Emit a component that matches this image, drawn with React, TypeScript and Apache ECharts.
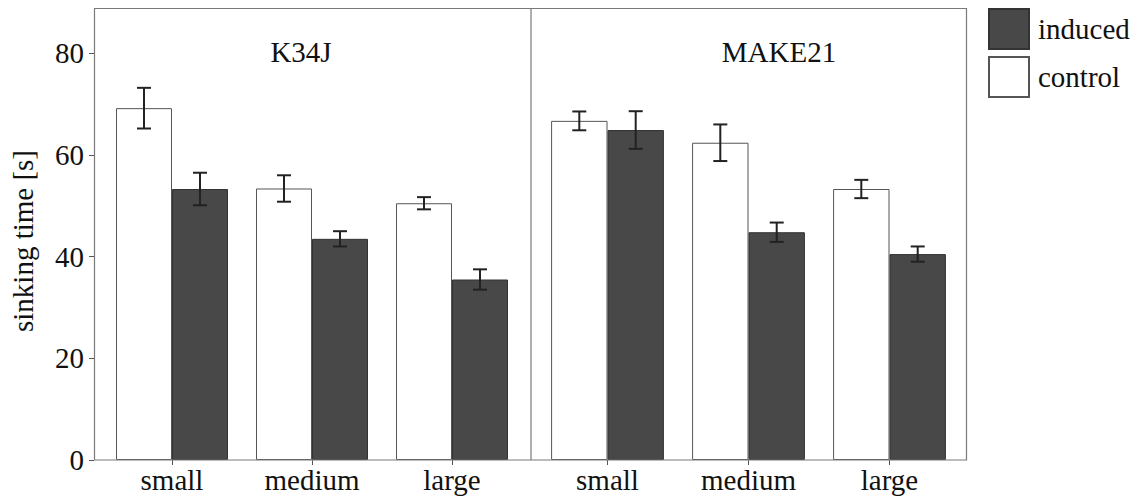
import React, { useEffect, useRef } from "react";
import * as echarts from "echarts";

const sizes = ["small", "medium", "large"];
const panels = ["K34J", "MAKE21"];
const seriesNames = ["induced", "control"];
const yTicks = [0, 20, 40, 60, 80];
const yAxisTitle = "sinking time [s]";

const k34jControl = [69.2, 53.4, 50.5];
const k34jControlErr = [4.0, 2.6, 1.2];
const k34jInduced = [53.3, 43.5, 35.5];
const k34jInducedErr = [3.2, 1.5, 2.0];
const make21Control = [66.7, 62.4, 53.3];
const make21ControlErr = [1.85, 3.6, 1.8];
const make21Induced = [64.9, 44.8, 40.5];
const make21InducedErr = [3.7, 1.9, 1.5];

const FONT = '"Liberation Serif", "Times New Roman", serif';
const TEXT = "#111";
const FRAME = "#7a7a7a";
const DARK = "#484848";

function errData(vals: number[], errs: number[], side: number) {
  return vals.map((v, i) => [i, v - errs[i], v + errs[i], side]);
}

function renderErr(params: any, api: any) {
  const cat = api.value(0);
  const lo = api.value(1);
  const hi = api.value(2);
  const side = api.value(3);
  const band = api.size([1, 0])[0];
  const c = api.coord([cat, lo]);
  const x = c[0] + side * band * 0.2;
  const yTop = api.coord([cat, hi])[1];
  const yBot = c[1];
  const hw = 7;
  const style = { stroke: "#222", lineWidth: 2 };
  return {
    type: "group",
    children: [
      { type: "line", shape: { x1: x, y1: yTop, x2: x, y2: yBot }, style },
      { type: "line", shape: { x1: x - hw, y1: yTop, x2: x + hw, y2: yTop }, style },
      { type: "line", shape: { x1: x - hw, y1: yBot, x2: x + hw, y2: yBot }, style },
    ],
  };
}

export default function App() {
  const ref = useRef<HTMLDivElement>(null);
  useEffect(() => {
    if (!ref.current) return;
    const chart = echarts.init(ref.current, null, { renderer: "svg" });
    const controlStyle = { color: "#ffffff", borderColor: "#555", borderWidth: 1 };
    const inducedStyle = { color: DARK, borderColor: "#333", borderWidth: 1 };
    const yBase = {
      type: "value",
      min: 0,
      max: 88.9,
      splitLine: { show: false },
    };
    const xBase = {
      type: "category",
      data: sizes,
      axisLine: { show: false },
      axisTick: {
        show: true,
        alignWithLabel: true,
        length: 5,
        lineStyle: { color: "#555" },
      },
      axisLabel: { fontSize: 29, fontFamily: FONT, color: TEXT, margin: 5 },
    };
    const bar = (name: string, xi: number, data: number[], style: any) => ({
      type: "bar",
      name,
      xAxisIndex: xi,
      yAxisIndex: xi,
      data,
      barWidth: "40%",
      barGap: "0%",
      itemStyle: style,
      z: 2,
    });
    const err = (xi: number, data: any[]) => ({
      type: "custom",
      xAxisIndex: xi,
      yAxisIndex: xi,
      data,
      renderItem: renderErr,
      encode: { x: 0, y: [1, 2] },
      z: 5,
      silent: true,
    });
    chart.setOption({
      animation: false,
      backgroundColor: "#fff",
      textStyle: { fontFamily: FONT },
      grid: [
        { left: 102, width: 420, top: 8, bottom: 42 },
        { left: 537, width: 423, top: 8, bottom: 42 },
      ],
      xAxis: [
        { ...xBase, gridIndex: 0 },
        { ...xBase, gridIndex: 1 },
      ],
      yAxis: [
        {
          ...yBase,
          gridIndex: 0,
          offset: 8,
          axisLine: { show: false },
          axisTick: {
            show: true,
            length: 5,
            customValues: yTicks,
            lineStyle: { color: "#555" },
          },
          axisLabel: {
            fontSize: 29,
            fontFamily: FONT,
            color: TEXT,
            margin: 10,
            customValues: yTicks,
          },
        },
        {
          ...yBase,
          gridIndex: 1,
          show: false,
        },
      ],
      legend: {
        data: seriesNames,
        orient: "vertical",
        left: 988,
        top: 8,
        padding: 0,
        itemWidth: 40,
        itemHeight: 40,
        itemGap: 6,
        icon: "rect",
        textStyle: {
          fontSize: 29,
          fontFamily: FONT,
          color: TEXT,
          padding: [0, 0, 0, 4],
        },
      },
      graphic: [
        {
          type: "rect",
          shape: { x: 94.5, y: 8.5, width: 872, height: 451.5 },
          style: { fill: "none", stroke: FRAME, lineWidth: 1.2 },
          z: 10,
          silent: true,
        },
        {
          type: "line",
          shape: { x1: 531, y1: 8.5, x2: 531, y2: 460 },
          style: { stroke: FRAME, lineWidth: 1.2 },
          z: 10,
          silent: true,
        },
        {
          type: "text",
          x: 301,
          y: 52,
          style: {
            text: panels[0],
            fontSize: 29,
            fontFamily: FONT,
            fill: TEXT,
            textAlign: "center",
            textVerticalAlign: "middle",
          },
        },
        {
          type: "text",
          x: 779,
          y: 52,
          style: {
            text: panels[1],
            fontSize: 29,
            fontFamily: FONT,
            fill: TEXT,
            textAlign: "center",
            textVerticalAlign: "middle",
          },
        },
        {
          type: "text",
          x: 23,
          y: 241,
          rotation: Math.PI / 2,
          style: {
            text: yAxisTitle,
            fontSize: 29,
            fontFamily: FONT,
            fill: TEXT,
            textAlign: "center",
            textVerticalAlign: "middle",
          },
        },
      ],
      series: [
        bar("control", 0, k34jControl, controlStyle),
        bar("induced", 0, k34jInduced, inducedStyle),
        bar("control", 1, make21Control, controlStyle),
        bar("induced", 1, make21Induced, inducedStyle),
        err(0, [...errData(k34jControl, k34jControlErr, -1), ...errData(k34jInduced, k34jInducedErr, 1)]),
        err(1, [...errData(make21Control, make21ControlErr, -1), ...errData(make21Induced, make21InducedErr, 1)]),
      ],
    });
    return () => chart.dispose();
  }, []);
  return (
    <div
      ref={ref}
      style={{ position: "fixed", left: 0, top: 0, width: 1144, height: 502 }}
    />
  );
}
